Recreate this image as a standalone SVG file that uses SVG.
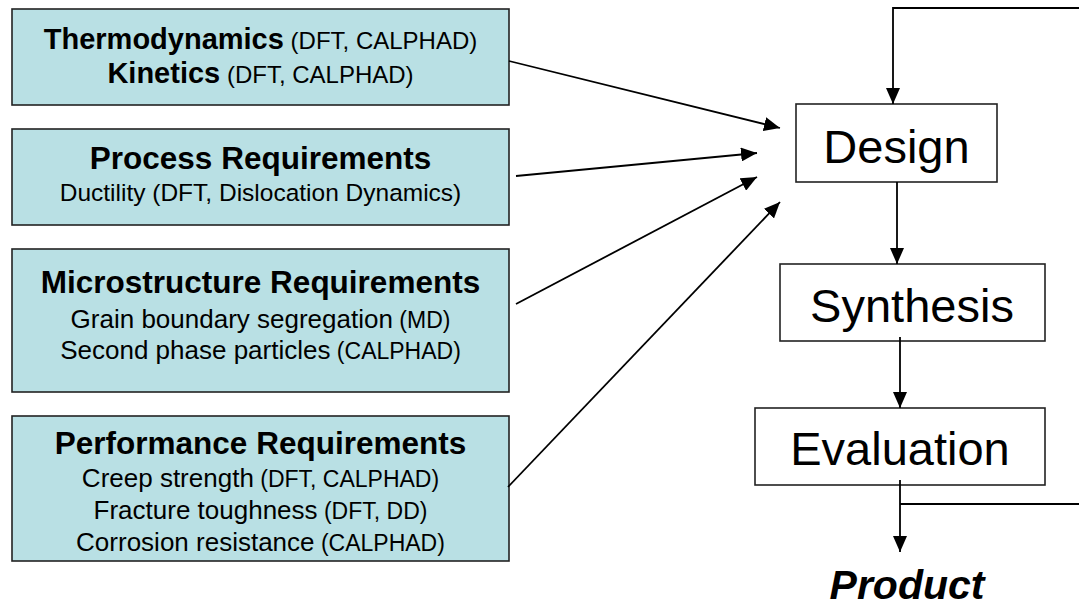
<svg xmlns="http://www.w3.org/2000/svg" width="1079" height="606" viewBox="0 0 1079 606">
<style>
.lb{fill:#b9e0e4;stroke:#222;stroke-width:1.6}
.rb{fill:#fff;stroke:#222;stroke-width:1.6}
text{font-family:"Liberation Sans",Arial,sans-serif;fill:#000;text-anchor:middle}
.h{font-weight:bold;font-size:31.5px}
.h1{font-weight:bold;font-size:29px}
.it{font-size:26px}
.it2{font-size:24.5px}
.p{font-size:23px;font-weight:normal}
.p1{font-size:24px;font-weight:normal}
.big{font-size:47px}
.prod{font-size:41px;font-weight:bold;font-style:italic}
.c{fill:none;stroke:#000;stroke-width:1.8}
</style>
<defs>
<marker id="ah" markerUnits="userSpaceOnUse" markerWidth="16" markerHeight="14" refX="16" refY="7" orient="auto">
<path d="M0,0 L16,7 L0,14 Z" fill="#000"/>
</marker>
</defs>
<g id="thermo">
<rect class="lb" x="12" y="9" width="497" height="96"/>
<text x="260.5" y="49"><tspan class="h1">Thermodynamics</tspan><tspan class="p1"> (DFT, CALPHAD)</tspan></text>
<text x="260.5" y="83"><tspan class="h1">Kinetics</tspan><tspan class="p1"> (DFT, CALPHAD)</tspan></text>
</g>
<g id="process">
<rect class="lb" x="12" y="129" width="497" height="96"/>
<text class="h" x="260.5" y="169">Process Requirements</text>
<text class="it2" x="260.5" y="201">Ductility (DFT, Dislocation Dynamics)</text>
</g>
<g id="micro">
<rect class="lb" x="12" y="249" width="497" height="143"/>
<text class="h" x="260.5" y="293">Microstructure Requirements</text>
<text class="it" x="260.5" y="328">Grain boundary segregation<tspan class="p"> (MD)</tspan></text>
<text class="it" x="260.5" y="359">Second phase particles<tspan class="p"> (CALPHAD)</tspan></text>
</g>
<g id="perf">
<rect class="lb" x="12" y="416" width="497" height="145"/>
<text class="h" x="260.5" y="454">Performance Requirements</text>
<text class="it" x="260.5" y="487">Creep strength<tspan class="p"> (DFT, CALPHAD)</tspan></text>
<text class="it" x="260.5" y="519">Fracture toughness<tspan class="p"> (DFT, DD)</tspan></text>
<text class="it" x="260.5" y="551">Corrosion resistance<tspan class="p"> (CALPHAD)</tspan></text>
</g>
<g id="design">
<rect class="rb" x="796" y="104" width="201" height="78"/>
<text class="big" x="896.5" y="163">Design</text>
</g>
<g id="synthesis">
<rect class="rb" x="780" y="264" width="265" height="77"/>
<text class="big" x="912" y="322">Synthesis</text>
</g>
<g id="evaluation">
<rect class="rb" x="755" y="408" width="290" height="77"/>
<text class="big" x="900" y="465">Evaluation</text>
</g>
<g id="product">
<text class="prod" x="907" y="599">Product</text>
</g>
<g id="connectors">
<line class="c" x1="509" y1="61" x2="780" y2="128" marker-end="url(#ah)"/>
<line class="c" x1="516" y1="176" x2="757" y2="153" marker-end="url(#ah)"/>
<line class="c" x1="516" y1="304" x2="757" y2="177" marker-end="url(#ah)"/>
<line class="c" x1="508" y1="487" x2="780" y2="202" marker-end="url(#ah)"/>
<polyline class="c" points="1080,8 893,8 893,104" marker-end="url(#ah)"/>
<line class="c" x1="897" y1="182" x2="897" y2="264" marker-end="url(#ah)"/>
<line class="c" x1="900" y1="337" x2="900" y2="408" marker-end="url(#ah)"/>
<line class="c" x1="900" y1="480" x2="900" y2="552" marker-end="url(#ah)"/>
<line class="c" x1="900" y1="504" x2="1080" y2="504"/>
</g>
</svg>
